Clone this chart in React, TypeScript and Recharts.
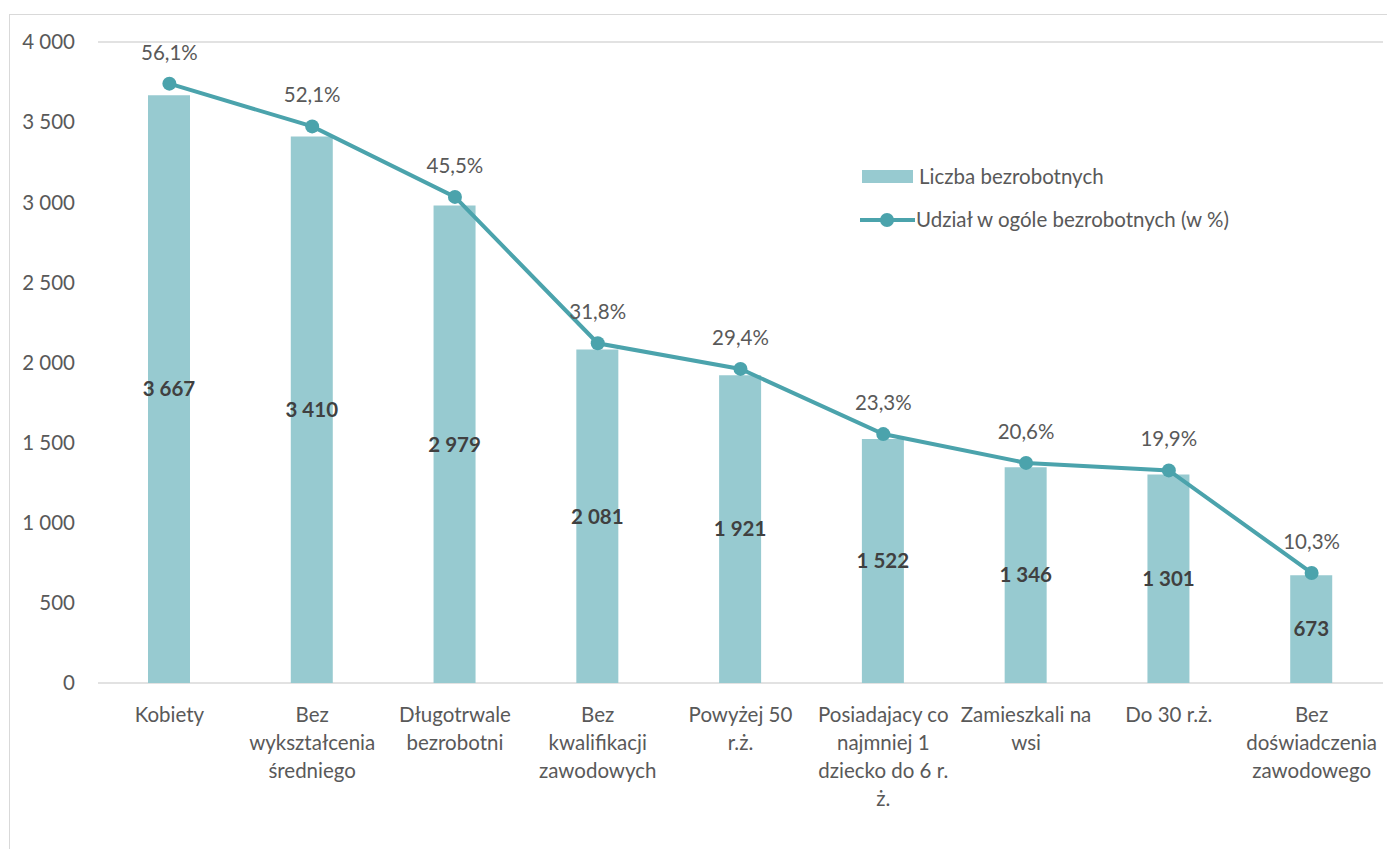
import { Bar, ComposedChart, CartesianGrid, LabelList, Line, XAxis, YAxis } from "recharts";

const categories = [
  "Kobiety",
  "Bez wykształcenia średniego",
  "Długotrwale bezrobotni",
  "Bez kwalifikacji zawodowych",
  "Powyżej 50 r.ż.",
  "Posiadajacy co najmniej 1 dziecko do 6 r. ż.",
  "Zamieszkali na wsi",
  "Do 30 r.ż.",
  "Bez doświadczenia zawodowego",
];

// tick labels as they wrap in the original
const tickLines: string[][] = [
  ["Kobiety"],
  ["Bez", "wykształcenia", "średniego"],
  ["Długotrwale", "bezrobotni"],
  ["Bez", "kwalifikacji", "zawodowych"],
  ["Powyżej 50", "r.ż."],
  ["Posiadajacy co", "najmniej 1", "dziecko do 6 r.", "ż."],
  ["Zamieszkali na", "wsi"],
  ["Do 30 r.ż."],
  ["Bez", "doświadczenia", "zawodowego"],
];

const unemployed = [3667, 3410, 2979, 2081, 1921, 1522, 1346, 1301, 673];
const sharePct = [56.1, 52.1, 45.5, 31.8, 29.4, 23.3, 20.6, 19.9, 10.3];

const yTicks = [0, 500, 1000, 1500, 2000, 2500, 3000, 3500, 4000];

const data = categories.map((name, i) => ({
  name,
  count: unemployed[i],
  share: sharePct[i],
}));

const FONT = "Lato, 'Open Sans', sans-serif";
const FS = 20.5;
const BAR = "#97CAD0";
const LINE = "#4BA3AC";
const TXT = "#595959";

const fmtThousands = (v: number) => String(v).replace(/\B(?=(\d{3})+(?!\d))/g, " ");
const fmtPct = (v: number) => v.toFixed(1).replace(".", ",") + "%";

function CategoryTick(props: any) {
  const { x, y, payload } = props;
  const lines = tickLines[payload.index] ?? [String(payload.value)];
  return (
    <text x={x} y={y} textAnchor="middle" fill={TXT} fontSize={FS} fontFamily={FONT}>
      {lines.map((ln, i) => (
        <tspan key={i} x={x} dy={i === 0 ? 31 : 28}>
          {ln}
        </tspan>
      ))}
    </text>
  );
}

function ChartLegend() {
  return (
    <svg
      width={460}
      height={80}
      style={{ position: "absolute", left: 858, top: 160, overflow: "visible" }}
    >
      <rect x={4} y={10} width={51} height={13} fill={BAR} />
      <text x={61} y={24} fill={TXT} fontSize={FS} fontFamily={FONT}>
        Liczba bezrobotnych
      </text>
      <line x1={2} y1={60} x2={57} y2={60} stroke={LINE} strokeWidth={4} />
      <circle cx={29} cy={60} r={7} fill={LINE} />
      <text x={58} y={67} fill={TXT} fontSize={FS} fontFamily={FONT}>
        Udział w ogóle bezrobotnych (w %)
      </text>
    </svg>
  );
}

export default function App() {
  return (
    <div
      style={{
        position: "absolute",
        left: 0,
        top: 0,
        width: 1387,
        height: 849,
        overflow: "hidden",
        background: "#fff",
        fontFamily: FONT,
      }}
    >
      <div
        style={{
          position: "absolute",
          left: 9,
          top: 14,
          width: 1500,
          height: 1000,
          border: "1px solid #D9D9D9",
        }}
      />
      <ComposedChart
        width={1387}
        height={849}
        data={data}
        margin={{ top: 42, right: 4, left: 0, bottom: 26 }}
        style={{ position: "absolute", left: 0, top: 0 }}
      >
        <CartesianGrid vertical={false} stroke="#D9D9D9" strokeWidth={1.5} />
        <XAxis
          dataKey="name"
          axisLine={false}
          tickLine={false}
          interval={0}
          height={140}
          tick={<CategoryTick />}
        />
        <YAxis
          yAxisId="left"
          domain={[0, 4000]}
          ticks={yTicks}
          width={98}
          axisLine={false}
          tickLine={false}
          tickMargin={17}
          tickFormatter={fmtThousands}
          tick={{ fontSize: FS, fill: TXT, fontFamily: FONT }}
        />
        <YAxis yAxisId="right" orientation="right" domain={[0, 60]} hide />
        <Bar yAxisId="left" dataKey="count" fill={BAR} barSize={42} isAnimationActive={false}>
          <LabelList
            dataKey="count"
            position="center"
            formatter={(v: any) => fmtThousands(Number(v))}
            style={{ fontSize: FS, fontWeight: 700, fill: "#404040", fontFamily: FONT }}
          />
        </Bar>
        <Line
          yAxisId="right"
          dataKey="share"
          stroke={LINE}
          strokeWidth={4}
          dot={{ r: 7, fill: LINE, stroke: LINE, strokeWidth: 0 }}
          activeDot={false}
          isAnimationActive={false}
        >
          <LabelList
            dataKey="share"
            position="top"
            offset={24}
            formatter={(v: any) => fmtPct(Number(v))}
            style={{ fontSize: FS, fill: TXT, fontFamily: FONT }}
          />
        </Line>
      </ComposedChart>
      <ChartLegend />
    </div>
  );
}
